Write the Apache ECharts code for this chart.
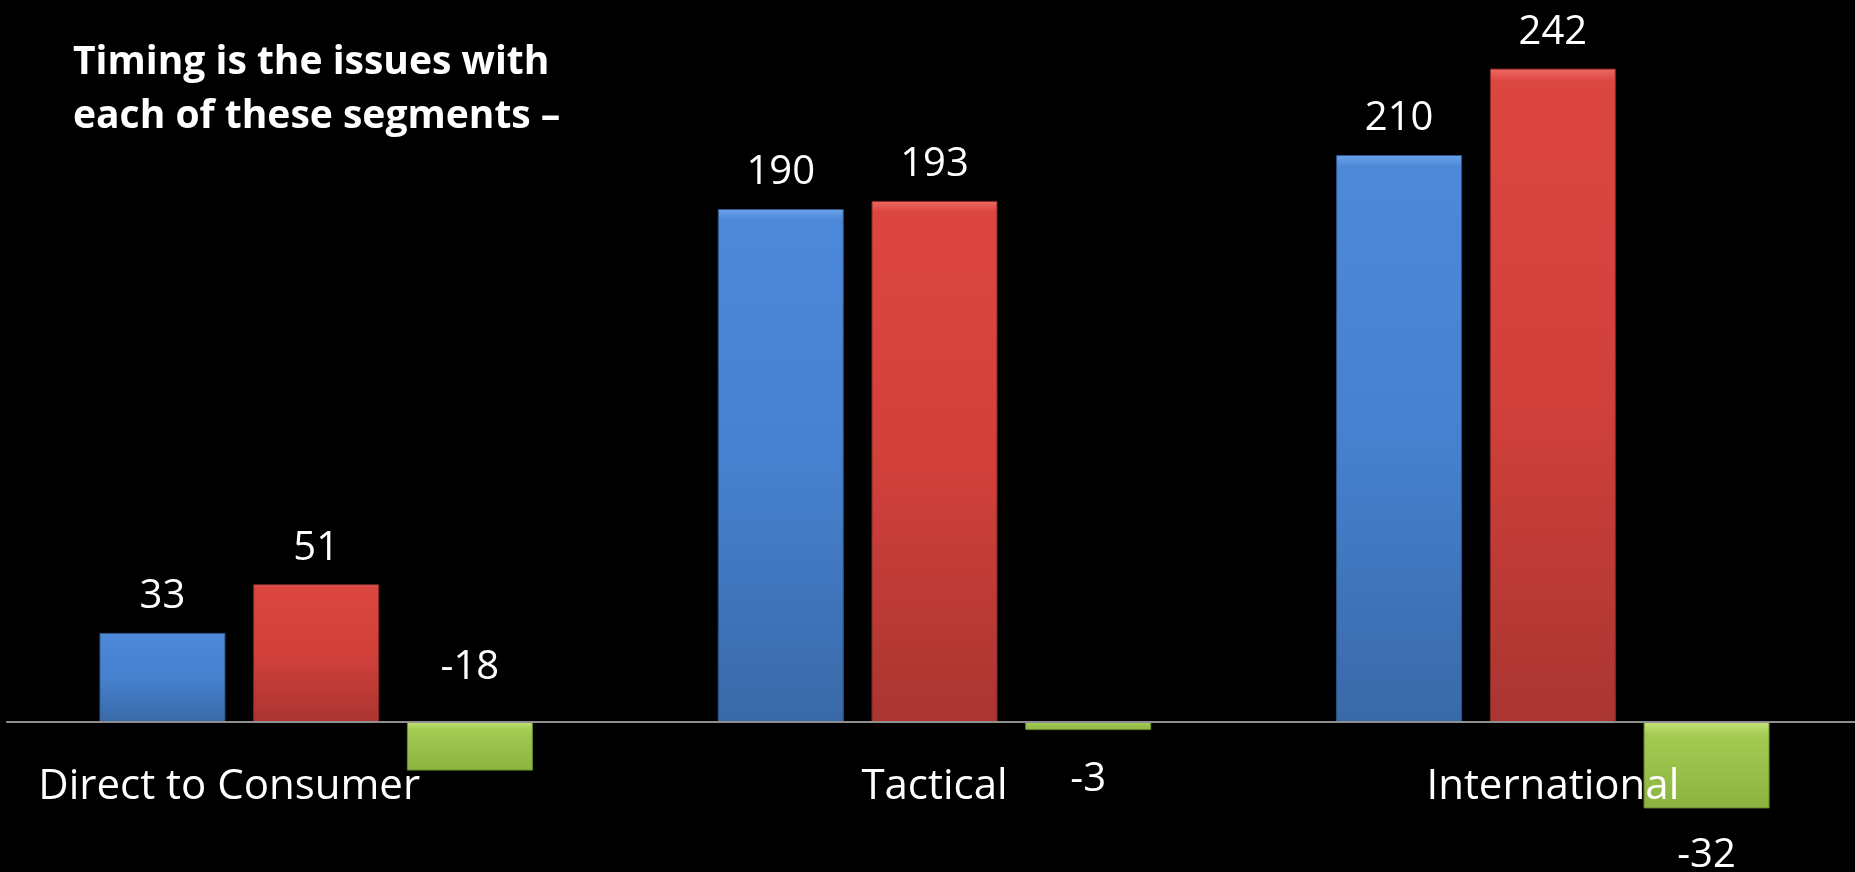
<!DOCTYPE html>
<html>
<head>
<meta charset="utf-8">
<title>Segments</title>
<script src="https://cdn.jsdelivr.net/npm/echarts@6/dist/echarts.min.js"></script>
<style>
  html, body { margin: 0; padding: 0; background: #000; }
  #chart { width: 1855px; height: 872px; }
</style>
</head>
<body>
<div id="chart"></div>
<script>
// Segment names along the category axis
const categories = ['Direct to Consumer', 'Tactical', 'International'];

// Three series per segment
const blueValues = [33, 190, 210];
const redValues = [51, 193, 242];
const greenValues = [-18, -3, -32];

const headline = 'Timing is the issues with\neach of these segments \u2013';

const FONT = '"Open Sans", "Noto Sans", sans-serif';

// Label placement for the negative bars (one entry per segment)
const greenLabelPlacement = [
  { position: 'top', distance: 34 },
  { position: 'bottom', distance: 30 },
  { position: 'bottom', distance: 27 }
];

function vGrad(stops) {
  return new echarts.graphic.LinearGradient(0, 0, 0, 1,
    stops.map(([offset, color]) => ({ offset, color })));
}

const blueStyle = {
  color: vGrad([[0, '#6ea3ea'], [0.02, '#4d89d9'], [0.5, '#4681cf'], [1, '#3969a8']]),
  borderColor: '#2c5488', borderWidth: 1
};
const redStyle = {
  color: vGrad([[0, '#ec6a62'], [0.02, '#dc4641'], [0.5, '#d2403b'], [1, '#aa3531']]),
  borderColor: '#842825', borderWidth: 1
};
const greenStyle = {
  color: vGrad([[0, '#c4e27a'], [0.15, '#a3ca52'], [1, '#8cb33f']]),
  borderColor: '#6b8a2e', borderWidth: 1
};

const valueLabel = {
  show: true,
  position: 'top',
  distance: 16,
  color: '#ffffff',
  fontFamily: FONT,
  fontSize: 40
};

const chart = echarts.init(document.getElementById('chart'), null, { renderer: 'canvas' });

chart.setOption({
  backgroundColor: '#000000',
  animation: false,
  title: {
    text: headline,
    left: 68,
    top: 31,
    textStyle: {
      color: '#ffffff',
      fontFamily: FONT,
      fontWeight: 'bold',
      fontSize: 39,
      lineHeight: 54
    }
  },
  grid: { left: 7, right: -7, top: 20, bottom: 42, containLabel: false, outerBoundsMode: 'none' },
  xAxis: {
    type: 'category',
    z: 10,
    data: categories.map((name, i) => i === 0
      ? { value: name, textStyle: { padding: [0, 174, 0, 0] } }
      : name),
    axisTick: { show: false },
    axisLine: { show: true, onZero: true, lineStyle: { color: '#8f8f8f', width: 2 } },
    axisLabel: {
      color: '#ffffff',
      fontFamily: FONT,
      fontSize: 42,
      margin: -64,
      interval: 0
    },
    splitLine: { show: false }
  },
  yAxis: {
    type: 'value',
    min: -40,
    max: 260,
    show: false,
    splitLine: { show: false }
  },
  series: [
    {
      type: 'bar',
      data: blueValues,
      barWidth: 126,
      barGap: '22%',
      itemStyle: blueStyle,
      label: valueLabel
    },
    {
      type: 'bar',
      data: redValues,
      barWidth: 126,
      barGap: '22%',
      itemStyle: redStyle,
      label: valueLabel
    },
    {
      type: 'bar',
      data: greenValues.map((v, i) => ({
        value: v,
        label: Object.assign({}, valueLabel, greenLabelPlacement[i])
      })),
      barWidth: 126,
      barGap: '22%',
      itemStyle: greenStyle,
      label: valueLabel
    }
  ]
});
</script>
</body>
</html>
